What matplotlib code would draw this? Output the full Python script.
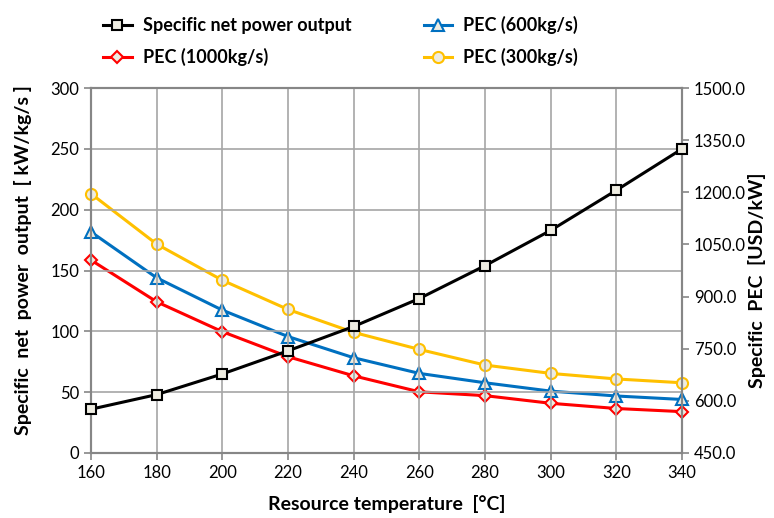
import matplotlib.pyplot as plt

plt.rcParams["font.family"] = ["Lato", "DejaVu Sans"]

# Data
temps = [160, 180, 200, 220, 240, 260, 280, 300, 320, 340]
net_power = [36, 48, 65, 84, 104, 127, 154, 183, 216, 250]
pec_1000 = [1005, 885, 799, 727, 672, 626, 615, 593, 578, 569]
pec_600 = [1086, 954, 861, 785, 724, 679, 652, 628, 614, 604]
pec_300 = [1196, 1051, 947, 863, 797, 748, 703, 679, 663, 652]

face = "#EEECE1"
grid_c = "#A6A6A6"

fig = plt.figure(figsize=(7.74, 5.18), dpi=100)
ax = fig.add_axes([0.1176, 0.1255, 0.7636, 0.7045])
ax2 = ax.twinx()

l1, = ax.plot(temps, net_power, color="black", lw=2.2, marker="s", ms=7,
              mfc=face, mec="black", mew=1.5, label="Specific net power output",
              zorder=5, clip_on=False)
l2, = ax2.plot(temps, pec_1000, color="#FF0000", lw=2.2, marker="D", ms=6,
               mfc=face, mec="#FF0000", mew=1.5, label="PEC (1000kg/s)", clip_on=False)
l3, = ax2.plot(temps, pec_600, color="#0070C0", lw=2.2, marker="^", ms=8,
               mfc=face, mec="#0070C0", mew=1.5, label="PEC (600kg/s)", clip_on=False)
l4, = ax2.plot(temps, pec_300, color="#FFC000", lw=2.2, marker="o", ms=8,
               mfc=face, mec="#FFC000", mew=1.5, label="PEC (300kg/s)", clip_on=False)

ax.set_xlim(160, 340)
ax.set_ylim(0, 300)
ax2.set_ylim(450, 1500)
ax.set_xticks(range(160, 341, 20))
ax.set_yticks(range(0, 301, 50))
ax2.set_yticks(range(450, 1501, 150))
ax2.set_yticklabels([f"{v:.1f}" for v in range(450, 1501, 150)])

ax.grid(True, color=grid_c, lw=1.2)
ax.set_axisbelow(True)
ax.set_zorder(ax2.get_zorder() + 1)
ax.patch.set_visible(False)

for a in (ax, ax2):
    for s in a.spines.values():
        s.set_color("#868686")
        s.set_linewidth(1.5)
    a.tick_params(labelsize=12, colors="black", length=5, color="#868686", width=1.2)

ax.set_xlabel("Resource temperature  [°C]", fontsize=14, fontweight="bold", labelpad=10)
ax.set_ylabel("Specific  net  power  output  [ kW/kg/s ]", fontsize=14, fontweight="bold")
ax.yaxis.set_label_coords(-0.10, 0.529)
ax2.set_ylabel("Specific  PEC  [USD/kW]", fontsize=14, fontweight="bold")
ax2.yaxis.set_label_coords(1.112, 0.474)

fig.legend(handles=[l1, l2, l3, l4], ncol=2, loc="upper center",
           bbox_to_anchor=(0.44, 1.0), frameon=False, columnspacing=4.0,
           handlelength=1.6, handletextpad=0.6,
           prop={"weight": "bold", "size": 13}, labelspacing=0.75)

plt.savefig("out.png", dpi=100)
